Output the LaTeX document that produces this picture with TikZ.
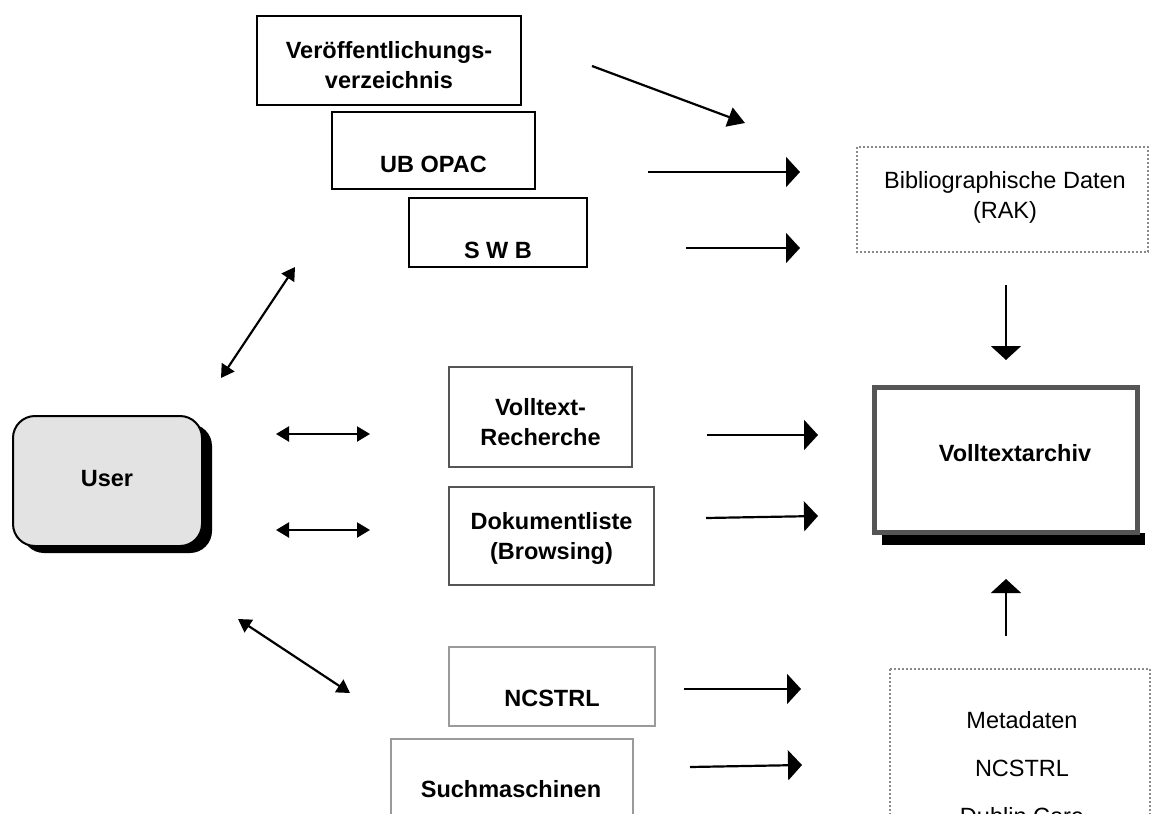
\documentclass[tikz,border=0pt]{standalone}
\usepackage{fontspec}
\setmainfont{Liberation Sans}
\usetikzlibrary{arrows.meta}
\definecolor{boxgrey}{HTML}{555555}
\definecolor{lightgrey}{HTML}{9A9A9A}
\definecolor{dotgrey}{HTML}{8A8A8A}
\definecolor{userfill}{HTML}{E3E3E3}
\tikzset{
  every node/.style={font=\fontsize{23.5}{30}\selectfont, align=center, inner sep=0pt},
  bold/.style={font=\fontsize{23.5}{30}\selectfont\bfseries},
  blackbox/.style={draw=black, line width=2pt, fill=white},
  greybox/.style={draw=boxgrey, line width=2.2pt, fill=white},
  lightbox/.style={draw=lightgrey, line width=2pt, fill=white},
  dotbox/.style={draw=dotgrey, line width=2pt, dash pattern=on 2pt off 2pt},
  bigarrow/.style={line width=2.2pt, -{Triangle[length=14pt,width=30pt]}},
  midarrow/.style={line width=2.2pt, -{Triangle[length=17pt,width=20pt]}},
  dblarrow/.style={line width=2.2pt, {Triangle[length=13pt,width=15pt]}-{Triangle[length=13pt,width=15pt]}},
}
\begin{document}
\begin{tikzpicture}[x=1pt,y=-1pt]
\useasboundingbox (0,0) rectangle (1157,814);
\clip (0,0) rectangle (1157,814);

% User
\fill[black, rounded corners=22pt] (22,424) rectangle (212,553);
\draw[line width=2pt, fill=userfill, rounded corners=22pt] (13,416) rectangle (202,546);
\node[bold] (user) at (107,479) {User};

% top sources
\node[blackbox, minimum width=264pt, minimum height=89pt] (veroe) at (389,60.5) {};
\node[bold] (veroet) at (389,65) {Veröffentlichungs-\\verzeichnis};
\node[blackbox, minimum width=203pt, minimum height=77pt] (ub) at (433.5,150.5) {};
\node[bold] (ubt) at (433.5,164) {UB OPAC};
\node[blackbox, minimum width=178pt, minimum height=69pt] (swb) at (498,232.5) {};
\node[bold] (swbt) at (498,250) {S W B};

% Bibliographische Daten
\draw[dotbox] (857,147) rectangle (1148,252);
\node (bib) at (1005,197) {Bibliographische Daten\\(RAK)};

% middle
\node[greybox, minimum width=183pt, minimum height=100pt] (vr) at (540.5,417) {};
\node[bold] (vrt) at (540.5,422) {Volltext-\\Recherche};
\node[greybox, minimum width=205pt, minimum height=98pt] (dok) at (551.5,536) {};
\node[bold] (dokt) at (551.5,538) {Dokumentliste\\(Browsing)};

% Volltextarchiv
\fill[black] (882,533) rectangle (1145,545);
\node[draw=boxgrey, line width=5pt, fill=white, minimum width=263pt, minimum height=145pt] (va) at (1006,460) {};
\node[bold] (vat) at (1015,453) {Volltextarchiv};

% bottom sources
\node[lightbox, minimum width=206pt, minimum height=79pt] (nc) at (552,686.5) {};
\node[bold] (nct) at (552,698) {NCSTRL};
\draw[lightbox] (391,739) rectangle (633,830);
\node[bold] (such) at (511,789) {Suchmaschinen};

% Metadaten
\draw[dotbox] (890,669) rectangle (1150,840);
\node (meta1) at (1022,720) {Metadaten};
\node (meta2) at (1022,768) {NCSTRL};
\node (meta3) at (1022,816) {Dublin Core};

% arrow end coordinates
\coordinate (a1s) at (592,66);   \coordinate (a1e) at (745,123);
\coordinate (a2s) at (648,172);  \coordinate (a2e) at (800,172);
\coordinate (a3s) at (686,248);  \coordinate (a3e) at (800,248);
\coordinate (a4s) at (1006,285); \coordinate (a4e) at (1006,360);
\coordinate (a5s) at (707,435);  \coordinate (a5e) at (818,435);
\coordinate (a6s) at (706,518);  \coordinate (a6e) at (818,516);
\coordinate (a7s) at (1006,636); \coordinate (a7e) at (1006,579);
\coordinate (a8s) at (684,689);  \coordinate (a8e) at (801,689);
\coordinate (a9s) at (690,767);  \coordinate (a9e) at (802,765);
\coordinate (d1a) at (221,378);  \coordinate (d1b) at (295,267);
\coordinate (d2a) at (276,434);  \coordinate (d2b) at (370,434);
\coordinate (d3a) at (276,530);  \coordinate (d3b) at (370,530);
\coordinate (d4a) at (238,619);  \coordinate (d4b) at (350,693);

\draw[midarrow] (a1s) -- (a1e);
\draw[bigarrow] (a2s) -- (a2e);
\draw[bigarrow] (a3s) -- (a3e);
\draw[bigarrow] (a4s) -- (a4e);
\draw[bigarrow] (a5s) -- (a5e);
\draw[bigarrow] (a6s) -- (a6e);
\draw[bigarrow] (a7s) -- (a7e);
\draw[bigarrow] (a8s) -- (a8e);
\draw[bigarrow] (a9s) -- (a9e);
\draw[dblarrow] (d1a) -- (d1b);
\draw[dblarrow] (d2a) -- (d2b);
\draw[dblarrow] (d3a) -- (d3b);
\draw[dblarrow] (d4a) -- (d4b);
\end{tikzpicture}
\end{document}
